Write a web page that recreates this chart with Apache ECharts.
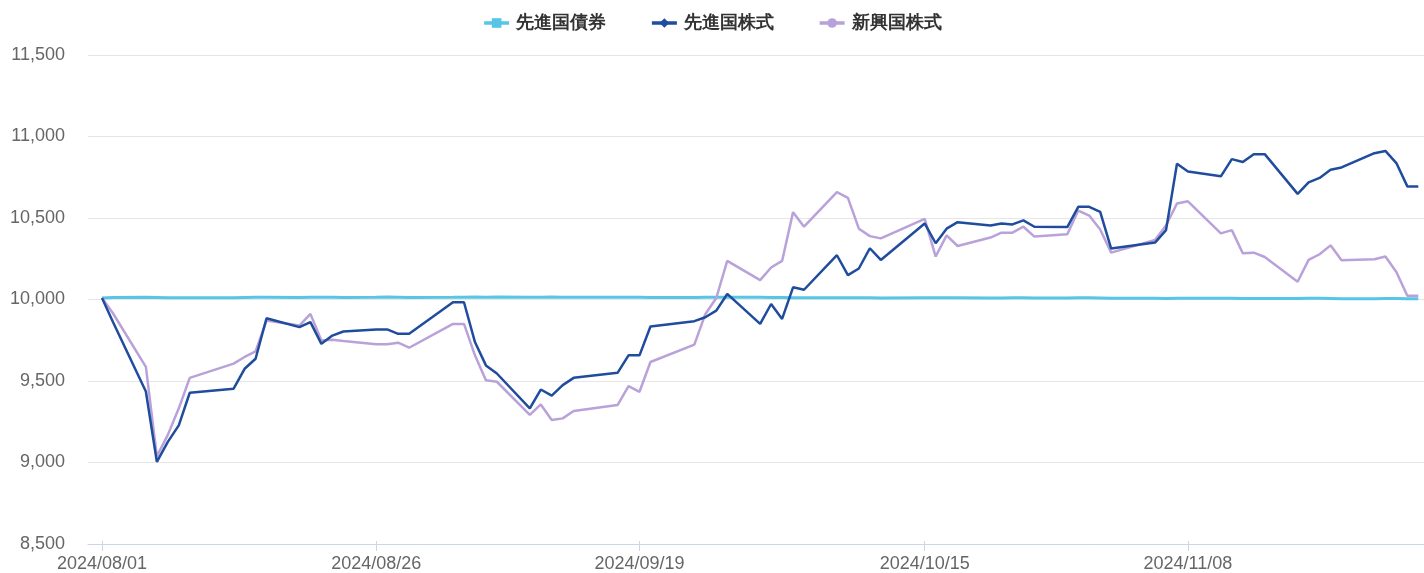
<!DOCTYPE html>
<html>
<head>
<meta charset="utf-8">
<script src="https://cdn.jsdelivr.net/npm/echarts@6/dist/echarts.min.js"></script>
<style>
html,body{margin:0;padding:0;background:#fff;}
#chart{width:1424px;height:573px;}
</style>
</head>
<body>
<div id="chart"></div>
<script>
// Trading dates (those with a visible vertex)
const dates = [
 '2024/08/01','2024/08/02','2024/08/05','2024/08/06','2024/08/07','2024/08/08','2024/08/09',
 '2024/08/13','2024/08/14','2024/08/15','2024/08/16','2024/08/19','2024/08/20','2024/08/21',
 '2024/08/22','2024/08/23','2024/08/26','2024/08/27','2024/08/28','2024/08/29','2024/09/02',
 '2024/09/03','2024/09/04','2024/09/05','2024/09/06','2024/09/09','2024/09/10','2024/09/11',
 '2024/09/12','2024/09/13','2024/09/17','2024/09/18','2024/09/19','2024/09/20','2024/09/24',
 '2024/09/25','2024/09/26','2024/09/27','2024/09/30','2024/10/01','2024/10/02','2024/10/03',
 '2024/10/04','2024/10/07','2024/10/08','2024/10/09','2024/10/10','2024/10/11','2024/10/15',
 '2024/10/16','2024/10/17','2024/10/18','2024/10/21','2024/10/22','2024/10/23','2024/10/24',
 '2024/10/25','2024/10/28','2024/10/29','2024/10/30','2024/10/31','2024/11/01','2024/11/05',
 '2024/11/06','2024/11/07','2024/11/08','2024/11/11','2024/11/12','2024/11/13','2024/11/14',
 '2024/11/15','2024/11/18','2024/11/19','2024/11/20','2024/11/21','2024/11/22','2024/11/25',
 '2024/11/26','2024/11/27','2024/11/28','2024/11/29'
];
// 先進国債券
const bonds = [
 10000,10003,10004,10003,10002,10002,10001,
 10002,10003,10004,10004,10003,10004,10005,
 10004,10003,10005,10006,10005,10003,10004,
 10005,10006,10005,10006,10004,10005,10006,
 10005,10004,10005,10005,10004,10003,10003,
 10004,10004,10005,10004,10003,10003,10002,
 10002,10001,10002,10002,10001,10000,10002,
 10002,10001,10001,10000,10000,10001,10001,
 10000,10000,10001,10001,10000,9998,9998,
 9997,9998,9998,9999,9998,9997,9997,
 9997,9997,9998,9998,9997,9996,9996,
 9997,9997,9996,9996
];
// 先進国株式
const devEquity = [
 10000,9852,9423,8989,9112,9214,9415,
 9440,9563,9625,9875,9820,9851,9717,
 9768,9793,9806,9806,9779,9779,9974,
 9974,9728,9584,9534,9319,9435,9397,
 9462,9507,9538,9646,9646,9824,9857,
 9881,9922,10025,9840,9963,9871,10066,
 10051,10264,10141,10182,10307,10235,10460,
 10338,10428,10468,10448,10460,10454,10479,
 10440,10438,10563,10563,10532,10305,10342,
 10419,10829,10781,10751,10857,10839,10888,
 10888,10643,10714,10741,10792,10806,10894,
 10908,10833,10689,10689
];
// 新興国株式
const emEquity = [
 10000,9906,9575,9022,9155,9319,9507,
 9595,9636,9671,9861,9830,9902,9738,
 9742,9734,9714,9714,9724,9693,9840,
 9840,9646,9492,9483,9278,9343,9247,
 9257,9302,9339,9456,9421,9605,9712,
 9900,10000,10229,10110,10188,10229,10530,
 10440,10653,10618,10428,10382,10368,10489,
 10256,10387,10321,10373,10403,10403,10440,
 10379,10393,10540,10509,10423,10280,10358,
 10448,10583,10597,10399,10419,10276,10280,
 10253,10100,10235,10270,10325,10233,10239,
 10256,10161,10014,10014
];
const tickLabels = ['2024/08/01','2024/08/26','2024/09/19','2024/10/15','2024/11/08'];
const seriesNames = ['先進国債券','先進国株式','新興国株式'];
const colors = ['#56c5e6','#1f4c9c','#b9a1da'];

// calendar-day categories from first to last date
function fmt(d){
  const m = String(d.getMonth()+1).padStart(2,'0');
  const dd = String(d.getDate()).padStart(2,'0');
  return d.getFullYear()+'/'+m+'/'+dd;
}
const categories = [];
{
  const p0 = dates[0].split('/').map(Number);
  const p1 = dates[dates.length-1].split('/').map(Number);
  const d = new Date(p0[0], p0[1]-1, p0[2]);
  const end = new Date(p1[0], p1[1]-1, p1[2]);
  while (d <= end) { categories.push(fmt(d)); d.setDate(d.getDate()+1); }
}
function align(vals){
  const map = {};
  dates.forEach((dt,i)=>{ map[dt] = vals[i]; });
  return categories.map(c => (c in map) ? map[c] : null);
}
const isTick = (idx, val) => tickLabels.indexOf(val) >= 0;

const chart = echarts.init(document.getElementById('chart'), null, {renderer:'canvas'});
const FONT = "'Liberation Sans', Arial, sans-serif";
const gridTop = 55, gridBottom = 29;
chart.setOption({
  animation:false,
  backgroundColor:'#ffffff',
  legend:{
    top:9, left:'center',
    itemWidth:25, itemHeight:12, itemGap:44,
    lineStyle:{width:3.5},
    textStyle:{fontFamily:FONT, fontSize:18, fontWeight:'bold', color:'#333333', padding:[0,0,0,2]},
    data:seriesNames
  },
  grid:[
    {left:88, right:0, top:gridTop, bottom:gridBottom},
    {left:102, right:5.7, top:gridTop, bottom:gridBottom}
  ],
  xAxis:[
    {gridIndex:0, type:'value', min:0, max:1,
     axisLine:{show:true, lineStyle:{color:'#ccd6eb', width:1}},
     axisTick:{show:false}, axisLabel:{show:false}, splitLine:{show:false}},
    {gridIndex:1, type:'category', data:categories, boundaryGap:false,
     axisLine:{show:false},
     axisTick:{show:true, interval:isTick, length:10, lineStyle:{color:'#ccd6eb'}},
     axisLabel:{interval:isTick, margin:14, color:'#666666', fontFamily:FONT, fontSize:18},
     splitLine:{show:false}}
  ],
  yAxis:[
    {gridIndex:0, type:'value', min:8500, max:11500, interval:500,
     axisLine:{show:false}, axisTick:{show:false},
     axisLabel:{margin:23, color:'#666666', fontFamily:FONT, fontSize:18,
       formatter:v => v.toLocaleString('en-US')},
     splitLine:{show:true, lineStyle:{color:'#e6e6e6', width:1}}},
    {gridIndex:1, type:'value', min:8500, max:11500, interval:500, show:false,
     splitLine:{show:false}}
  ],
  series:[
    {name:seriesNames[0], type:'line', xAxisIndex:1, yAxisIndex:1, data:align(bonds),
     connectNulls:true, symbol:'rect', symbolSize:9, showSymbol:false,
     color:colors[0], lineStyle:{width:3, color:colors[0]}, z:2},
    {name:seriesNames[2], type:'line', xAxisIndex:1, yAxisIndex:1, data:align(emEquity),
     connectNulls:true, symbol:'circle', symbolSize:9, showSymbol:false,
     color:colors[2], lineStyle:{width:2.5, color:colors[2]}, z:3},
    {name:seriesNames[1], type:'line', xAxisIndex:1, yAxisIndex:1, data:align(devEquity),
     connectNulls:true, symbol:'diamond', symbolSize:10, showSymbol:false,
     color:colors[1], lineStyle:{width:2.5, color:colors[1]}, z:4}
  ]
});
</script>
</body>
</html>
